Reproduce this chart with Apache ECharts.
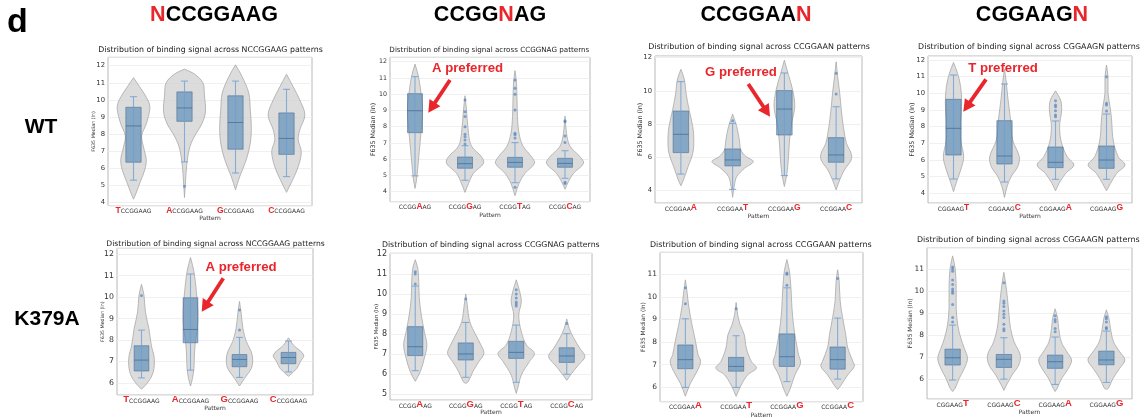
<!DOCTYPE html>
<html><head><meta charset="utf-8">
<script src="https://cdn.jsdelivr.net/npm/echarts@6/dist/echarts.min.js"></script>
<style>html,body{margin:0;padding:0;background:#fff}#c{width:1146px;height:418px}</style>
</head><body><div id="c"></div>
<script>
// ===================== DATA =====================
// categories (the red letter is the varied position)
const catsN1 = ['TCCGGAAG','ACCGGAAG','GCCGGAAG','CCCGGAAG'];
const catsN5 = ['CCGGAAG','CCGGGAG','CCGGTAG','CCGGCAG'];
const catsN7 = ['CCGGAAA','CCGGAAT','CCGGAAG','CCGGAAC'];
const catsN8 = ['CGGAAGT','CGGAAGC','CGGAAGA','CGGAAGG'];
const redN1 = 0, redN5 = 4, redN7 = 6, redN8 = 6;
const headers = [['','N','CCGGAAG'],['CCGG','N','AG'],['CCGGAA','N',''],['CGGAAG','N','']];
const rowLabels = ['WT','K379A'];
const titleN1 = 'Distribution of binding signal across NCCGGAAG patterns';
const titleN5 = 'Distribution of binding signal across CCGGNAG patterns';
const titleN7 = 'Distribution of binding signal across CCGGAAN patterns';
const titleN8 = 'Distribution of binding signal across CGGAAGN patterns';
const yAxisName = 'F635 Median (ln)';
const xAxisName = 'Pattern';
const yStepWT = [1, 1, 2, 1];
const yStepK = [1, 1, 1, 1];

// box stats per category: [lower whisker, Q1, median, Q3, upper whisker]
const wtN1Box = [[5.31,6.36,8.48,9.57,10.19],[6.38,8.75,9.53,10.47,11.1],[5.73,7.12,8.68,10.24,11.1],[5.52,6.82,7.75,9.24,10.62]];
const wtN5Box = [[4.97,7.63,8.98,10.03,11.08],[4.7,5.44,5.72,6.13,6.83],[4.55,5.5,5.8,6.11,7.02],[4.82,5.5,5.74,6.05,6.52]];
const wtN7Box = [[5.0,6.29,7.39,8.79,10.56],[4.08,5.49,5.85,6.51,8.05],[4.91,7.35,8.91,10.02,11.08],[4.71,5.71,6.15,7.19,9.05]];
const wtN8Box = [[4.86,6.3,7.9,9.64,11.1],[4.68,5.76,6.24,8.36,10.56],[4.84,5.54,5.86,6.78,8.34],[4.84,5.5,6.0,6.84,8.76]];
const kN1Box = [[6.23,6.55,7.06,7.73,8.46],[6.59,7.87,8.49,9.97,11.08],[6.25,6.75,7.09,7.32,8.12],[6.51,6.89,7.18,7.42,7.95]];
const kN5Box = [[6.18,6.93,7.37,8.37,10.39],[5.85,6.71,7.01,7.56,8.58],[5.6,6.79,7.09,7.64,8.45],[6.0,6.59,6.91,7.32,8.02]];
const kN7Box = [[5.99,6.82,7.22,7.87,9.03],[5.99,6.71,6.92,7.32,8.28],[6.25,6.92,7.35,8.36,10.4],[6.36,6.8,7.22,7.78,9.06]];
const kN8Box = [[5.97,6.65,6.98,7.37,8.46],[6.01,6.54,6.91,7.13,7.89],[5.77,6.5,6.8,7.1,7.92],[5.86,6.66,6.88,7.28,8.19]];

// outliers per category
const wtN1Out = [[],[4.95],[],[]];
const wtN5Out = [[],[6.93,7.18,7.38,7.53,8.0,8.62,8.92,9.64],[10.87,10.36,9.99,9.03,7.6,7.5,7.3,4.27],[8.37,8.3,7.43,7.02,4.57,4.5]];
const wtN7Out = [[],[8.21],[],[11.06,9.82]];
const wtN8Out = [[],[],[9.56,9.3,9.2,8.96,8.7,8.6],[11.0,9.4,9.3,8.94]];
const kN1Out = [[10.08],[],[9.4,8.46],[]];
const kN5Out = [[11.1,10.99,10.49],[9.74],[10.2,10.0,9.8,9.6,9.5,9.4],[8.53]];
const kN7Out = [[10.4,9.69],[9.47],[11.05,11.0,10.51],[10.81]];
const kN8Out = [[11.1,11.0,10.9,10.5,10.3,10.1,10.0,9.9,9.4,8.8,8.6],[10.38,9.55,9.45,9.3,9.1,8.95,8.8,8.5,8.3,8.2],[8.89,8.72,8.61,8.31,8.16],[8.84,8.75,8.6,8.35,8.3]];

// violin density outline per category: [value, half-width as fraction of category band], top to bottom
const wtN1Vio = [
 [[11.3,0],[10.77,0.12],[10.0,0.28],[9.5,0.32],[8.6,0.25],[7.9,0.16],[7.2,0.2],[6.5,0.25],[5.9,0.22],[5.2,0.13],[4.55,0.05],[4.2,0]],
 [[11.8,0],[11.5,0.2],[11.0,0.36],[10.3,0.39],[9.3,0.41],[8.6,0.34],[8.05,0.23],[7.47,0.13],[6.7,0.065],[5.7,0.03],[4.3,0]],
 [[12.05,0],[11.36,0.13],[10.4,0.26],[9.4,0.29],[8.44,0.31],[7.47,0.29],[6.5,0.21],[5.5,0.08],[4.75,0]],
 [[11.5,0],[10.77,0.13],[10.0,0.26],[9.12,0.36],[8.25,0.26],[7.66,0.23],[6.98,0.29],[6.1,0.23],[5.33,0.12],[4.6,0]]];
const wtN5Vio = [
 [[11.85,0],[11.08,0.07],[10.05,0.12],[9.03,0.15],[8.0,0.13],[6.97,0.1],[5.95,0.07],[4.72,0.03],[4.2,0]],
 [[9.9,0],[9.03,0.03],[7.6,0.07],[6.8,0.13],[6.15,0.33],[5.74,0.37],[5.13,0.17],[4.5,0.07],[3.95,0]],
 [[11.45,0],[10.67,0.03],[8.62,0.05],[7.6,0.08],[6.8,0.16],[6.15,0.33],[5.74,0.39],[5.13,0.2],[4.5,0.08],[3.75,0]],
 [[8.65,0],[7.6,0.03],[6.8,0.1],[6.15,0.3],[5.74,0.37],[5.13,0.17],[4.62,0.07],[4.15,0]]];
const wtN7Vio = [
 [[11.3,0],[10.66,0.07],[9.86,0.1],[8.85,0.16],[7.85,0.23],[7.05,0.25],[6.25,0.23],[5.45,0.14],[4.65,0.05],[4.3,0]],
 [[8.6,0],[7.85,0.08],[7.05,0.13],[6.45,0.16],[6.05,0.26],[5.75,0.4],[5.35,0.23],[4.85,0.08],[4.25,0.03],[3.6,0]],
 [[11.85,0],[11.06,0.07],[10.06,0.16],[9.05,0.2],[8.05,0.14],[7.05,0.1],[6.05,0.08],[5.05,0.05],[4.25,0]],
 [[11.75,0],[10.86,0.03],[9.86,0.07],[8.85,0.1],[7.85,0.14],[6.85,0.2],[6.25,0.29],[5.85,0.29],[5.25,0.16],[4.65,0.07],[4.05,0]]];
const wtN8Vio = [
 [[11.85,0],[11.2,0.08],[10.4,0.14],[9.4,0.16],[8.4,0.14],[7.2,0.14],[6.2,0.2],[5.4,0.14],[4.6,0.05],[4.1,0]],
 [[11.45,0],[10.8,0.03],[9.6,0.07],[8.4,0.12],[7.2,0.16],[6.2,0.29],[5.6,0.26],[5.0,0.13],[4.4,0.05],[3.75,0]],
 [[10.15,0],[9.6,0.1],[9.0,0.12],[8.0,0.08],[7.0,0.12],[6.2,0.23],[5.7,0.36],[5.2,0.2],[4.6,0.07],[4.15,0]],
 [[11.7,0],[11.0,0.03],[10.0,0.03],[9.2,0.07],[8.4,0.1],[7.2,0.13],[6.2,0.23],[5.7,0.36],[5.2,0.2],[4.6,0.08],[4.15,0]]];
const kN1Vio = [
 [[10.6,0],[10.1,0.05],[9.3,0.08],[8.54,0.15],[7.76,0.2],[7.14,0.26],[6.51,0.24],[6.05,0.14],[5.7,0]],
 [[11.85,0],[11.2,0.07],[10.25,0.12],[9.32,0.15],[8.54,0.14],[7.92,0.1],[7.3,0.08],[6.67,0.07],[6.2,0.04],[5.85,0]],
 [[9.8,0],[9.32,0.03],[8.54,0.07],[7.92,0.14],[7.45,0.24],[7.06,0.27],[6.67,0.24],[6.2,0.1],[5.85,0]],
 [[8.1,0],[7.76,0.1],[7.3,0.31],[6.98,0.24],[6.67,0.17],[6.3,0]]];
const kN5Vio = [
 [[11.7,0],[11.27,0.05],[10.6,0.07],[9.78,0.08],[8.95,0.12],[8.12,0.18],[7.46,0.23],[6.8,0.18],[6.13,0.1],[5.65,0]],
 [[10.0,0],[9.45,0.03],[8.62,0.08],[7.95,0.2],[7.46,0.3],[7.04,0.36],[6.63,0.26],[6.13,0.14],[5.63,0.05],[5.55,0]],
 [[10.7,0],[10.1,0.07],[9.6,0.1],[8.95,0.05],[8.12,0.1],[7.46,0.2],[7.04,0.36],[6.63,0.26],[5.96,0.1],[5.3,0.03],[5.05,0]],
 [[8.75,0],[8.28,0.05],[7.79,0.14],[7.29,0.26],[6.88,0.36],[6.46,0.23],[6.05,0.1],[5.7,0]]];
const kN7Vio = [
 [[10.75,0],[10.26,0.03],[9.52,0.07],[8.77,0.13],[8.03,0.2],[7.44,0.25],[7.14,0.3],[6.7,0.23],[6.18,0.1],[5.6,0]],
 [[9.75,0],[9.22,0.03],[8.77,0.08],[8.33,0.16],[7.74,0.2],[7.14,0.3],[6.85,0.4],[6.55,0.23],[6.1,0.1],[5.6,0]],
 [[11.65,0],[11.15,0.05],[10.4,0.08],[9.52,0.1],[8.77,0.13],[8.03,0.18],[7.44,0.23],[7.07,0.27],[6.55,0.16],[5.96,0.07],[5.6,0]],
 [[11.2,0],[10.7,0.03],[9.81,0.05],[9.07,0.1],[8.33,0.16],[7.74,0.2],[7.14,0.3],[6.92,0.33],[6.55,0.2],[6.1,0.07],[5.9,0]]];
const kN8Vio = [
 [[11.6,0],[11.03,0.05],[10.12,0.07],[9.22,0.07],[8.46,0.1],[7.86,0.16],[7.4,0.23],[6.95,0.29],[6.5,0.23],[6.05,0.13],[5.6,0.05],[5.45,0]],
 [[10.85,0],[10.43,0.03],[9.67,0.07],[8.92,0.1],[8.31,0.13],[7.7,0.2],[7.1,0.32],[6.65,0.29],[6.2,0.16],[5.74,0.05],[5.5,0]],
 [[9.2,0],[8.76,0.05],[8.31,0.07],[7.7,0.12],[7.25,0.23],[6.88,0.32],[6.5,0.26],[6.05,0.13],[5.6,0.04],[5.45,0]],
 [[9.15,0],[8.76,0.05],[8.31,0.08],[7.7,0.14],[7.25,0.26],[6.88,0.36],[6.5,0.26],[6.05,0.13],[5.6,0.04],[5.55,0]]];

// annotations: text, panel index
const notes = [['A preferred',1],['G preferred',2],['T preferred',3],['A preferred',4]];

// ===================== LAYOUT =====================
const panels = [
 {cats:catsN1, red:redN1, title:titleN1, box:wtN1Box, vio:wtN1Vio, out:wtN1Out, step:yStepWT[0]},
 {cats:catsN5, red:redN5, title:titleN5, box:wtN5Box, vio:wtN5Vio, out:wtN5Out, step:yStepWT[1]},
 {cats:catsN7, red:redN7, title:titleN7, box:wtN7Box, vio:wtN7Vio, out:wtN7Out, step:yStepWT[2]},
 {cats:catsN8, red:redN8, title:titleN8, box:wtN8Box, vio:wtN8Vio, out:wtN8Out, step:yStepWT[3]},
 {cats:catsN1, red:redN1, title:titleN1, box:kN1Box, vio:kN1Vio, out:kN1Out, step:yStepK[0]},
 {cats:catsN5, red:redN5, title:titleN5, box:kN5Box, vio:kN5Vio, out:kN5Out, step:yStepK[1]},
 {cats:catsN7, red:redN7, title:titleN7, box:kN7Box, vio:kN7Vio, out:kN7Out, step:yStepK[2]},
 {cats:catsN8, red:redN8, title:titleN8, box:kN8Box, vio:kN8Vio, out:kN8Out, step:yStepK[3]}
];
// frame rect, axis range, text positions/sizes
const L = [
 {l:108,r:312,t:57.3,b:205.7, ymin:3.82,ymax:12.49, tx:210.5,ty:50,tw:225, ylx:94,ylf:4.8, tf:6.8, px:218.5},
 {l:390,r:590,t:57.3,b:201.7, ymin:3.38,ymax:12.27, tx:489.3,ty:50,tw:200, ylx:373,ylf:6.3, tf:6.3, px:215.5},
 {l:655,r:862,t:56,b:203,     ymin:3.26,ymax:12.1,  tx:759,ty:47,tw:222,   ylx:640,ylf:6.3, tf:6.8, px:216},
 {l:928,r:1132,t:56,b:203,    ymin:3.42,ymax:12.24, tx:1029,ty:47,tw:222,  ylx:912,ylf:6.4, tf:6.8, px:216},
 {l:117,r:313,t:248.3,b:395,  ymin:5.43,ymax:12.28, tx:215.5,ty:244,tw:219,ylx:103,ylf:4.8, tf:7.8, px:408},
 {l:390,r:592,t:253.3,b:400,  ymin:4.72,ymax:12.02, tx:490.8,ty:245,tw:218,ylx:376.7,ylf:5.4, tf:8, px:412.5},
 {l:660,r:863,t:252.3,b:401.7,ymin:5.36,ymax:11.97, tx:760.8,ty:245,tw:222,ylx:643,ylf:5.9, tf:7.5, px:415},
 {l:927,r:1132,t:247.7,b:399, ymin:5.11,ymax:11.97, tx:1028.3,ty:240,tw:223,ylx:910,ylf:5.9, tf:7.5, px:412}
];
const notePos = [[467.5,68.5],[741,72],[1003,68.5],[241,267.5]];
const arrows = [[[450,80],[428.3,112.7]],[[748.3,84],[770,116.7]],[[986,79.3],[963.3,111.7]],[[223.3,278.3],[201.7,311.7]]];

const RED = '#e8262b';
const FONT = 'DejaVu Sans';
const BOLD = 'Liberation Sans';

const mctx = document.createElement('canvas').getContext('2d');
function fit(text, fam, w) { mctx.font = '100px "' + fam + '"'; return 100 * w / mctx.measureText(text).width; }

function violinRender(vio) {
  return function (params, api) {
    const ci = api.value(0);
    const prof = vio[ci];
    const band = api.size([1, 0])[0];
    const pts = [];
    for (let i = 0; i < prof.length; i++) { const p = api.coord([ci, prof[i][0]]); pts.push([p[0] + prof[i][1] * band, p[1]]); }
    for (let i = prof.length - 1; i >= 0; i--) { const p = api.coord([ci, prof[i][0]]); pts.push([p[0] - prof[i][1] * band, p[1]]); }
    return {type:'polygon', shape:{points:pts, smooth:0.35},
      style:{fill:'rgba(208,208,208,0.75)', stroke:'#a8a8a8', lineWidth:0.8}};
  };
}
function boxRender(params, api) {
  const ci = api.value(0);
  const band = api.size([1, 0])[0];
  const lo = api.coord([ci, api.value(1)]), q1 = api.coord([ci, api.value(2)]),
        md = api.coord([ci, api.value(3)]), q3 = api.coord([ci, api.value(4)]), hi = api.coord([ci, api.value(5)]);
  const x = lo[0], hw = band * 0.15, cw = band * 0.07;
  const wstyle = {stroke:'rgba(110,160,210,0.8)', lineWidth:1.1};
  return {type:'group', children:[
    {type:'rect', shape:{x:x - hw, y:q3[1], width:2 * hw, height:q1[1] - q3[1]},
     style:{fill:'rgba(70,130,180,0.58)', stroke:'rgba(70,105,145,0.7)', lineWidth:0.8}},
    {type:'line', shape:{x1:x, y1:hi[1], x2:x, y2:lo[1]}, style:wstyle},
    {type:'line', shape:{x1:x - cw, y1:hi[1], x2:x + cw, y2:hi[1]}, style:wstyle},
    {type:'line', shape:{x1:x - cw, y1:lo[1], x2:x + cw, y2:lo[1]}, style:wstyle},
    {type:'line', shape:{x1:x - hw, y1:md[1], x2:x + hw, y2:md[1]}, style:{stroke:'rgba(60,95,140,0.7)', lineWidth:0.9}}
  ]};
}

const grids = [], xAxes = [], yAxes = [], series = [], graphics = [];
panels.forEach((P, i) => {
  const g = L[i];
  grids.push({left:g.l, top:g.t, width:g.r - g.l, height:g.b - g.t, show:true, borderColor:'#b8b8b8', borderWidth:1, backgroundColor:'#fff', containLabel:false});
  const redSize = i >= 4 ? 9.5 : 8.5;
  xAxes.push({type:'category', gridIndex:i, data:P.cats, boundaryGap:true,
    axisLine:{show:false}, axisTick:{show:false}, splitLine:{show:false},
    axisLabel:{margin:1, interval:0,
      formatter:(v) => {
        const p = P.red; let s = '';
        if (p > 0) s += '{k|' + v.slice(0, p) + '}';
        s += '{r|' + v[p] + '}';
        if (p < v.length - 1) s += '{k|' + v.slice(p + 1) + '}';
        return s;
      },
      rich:{k:{fontFamily:FONT, fontSize:6, color:'#333', verticalAlign:'bottom', lineHeight:8},
            r:{fontFamily:BOLD, fontWeight:'bold', fontSize:redSize, color:RED, verticalAlign:'bottom', lineHeight:8}}}});
  yAxes.push({type:'value', gridIndex:i, min:g.ymin, max:g.ymax, minInterval:P.step, maxInterval:P.step,
    axisLine:{show:false}, axisTick:{show:false},
    splitLine:{show:true, lineStyle:{color:'#ececec', width:0.8}},
    axisLabel:{showMinLabel:false, showMaxLabel:false, margin:3, fontFamily:FONT, fontSize:g.tf, color:'#333'}});
  series.push({type:'custom', xAxisIndex:i, yAxisIndex:i, silent:true, z:1,
    renderItem:violinRender(P.vio), data:P.cats.map((c, k) => [k, P.box[k][2]])});
  series.push({type:'custom', xAxisIndex:i, yAxisIndex:i, silent:true, z:2,
    renderItem:boxRender, encode:{x:0, y:[1,2,3,4,5]}, data:P.box.map((b, k) => [k].concat(b))});
  const pts = [];
  P.out.forEach((arr, k) => arr.forEach(v => pts.push([k, v])));
  series.push({type:'scatter', xAxisIndex:i, yAxisIndex:i, silent:true, z:3, symbolSize:3,
    itemStyle:{color:'rgba(75,130,195,0.85)'}, data:pts});
  // panel title
  graphics.push({type:'text', x:g.tx, y:g.ty, style:{text:P.title, fontFamily:FONT, fontSize:fit(P.title, FONT, g.tw), fill:'#222', align:'center', verticalAlign:'middle'}});
  // y axis name
  graphics.push({type:'text', x:g.ylx, y:(g.t + g.b) / 2, rotation:Math.PI / 2,
    style:{text:yAxisName, fontFamily:FONT, fontSize:g.ylf, fill:'#333', align:'center', verticalAlign:'middle'}});
  // x axis name
  graphics.push({type:'text', x:(g.l + g.r) / 2, y:g.px, style:{text:xAxisName, fontFamily:FONT, fontSize:6, fill:'#333', align:'center', verticalAlign:'middle'}});
});

// panel letter, column headers, row labels
graphics.push({type:'text', x:7, y:23, style:{text:'d', fontFamily:BOLD, fontWeight:'bold', fontSize:34, fill:'#000', verticalAlign:'middle'}});
const headX = [214, 490, 756, 1032];
headers.forEach((h, j) => {
  let s = '';
  if (h[0]) s += '{k|' + h[0] + '}';
  s += '{r|' + h[1] + '}';
  if (h[2]) s += '{k|' + h[2] + '}';
  graphics.push({type:'text', x:headX[j], y:15, style:{text:s, align:'center', verticalAlign:'middle',
    rich:{k:{fontFamily:BOLD, fontWeight:'bold', fontSize:21.5, fill:'#000'}, r:{fontFamily:BOLD, fontWeight:'bold', fontSize:21.5, fill:RED}}}});
});
graphics.push({type:'text', x:41, y:127, style:{text:rowLabels[0], fontFamily:BOLD, fontWeight:'bold', fontSize:21, fill:'#000', align:'center', verticalAlign:'middle'}});
graphics.push({type:'text', x:47, y:319, style:{text:rowLabels[1], fontFamily:BOLD, fontWeight:'bold', fontSize:21, fill:'#000', align:'center', verticalAlign:'middle'}});

// annotations
notes.forEach((n, j) => {
  graphics.push({type:'text', x:notePos[j][0], y:notePos[j][1], z:10,
    style:{text:n[0], fontFamily:BOLD, fontWeight:'bold', fontSize:13.2, fill:RED, align:'center', verticalAlign:'middle'}});
  const s = arrows[j][0], t = arrows[j][1];
  const dx = t[0] - s[0], dy = t[1] - s[1], len = Math.hypot(dx, dy);
  const ux = dx / len, uy = dy / len, nx = -uy, ny = ux;
  const hl = 12, hw = 6.5;
  const bx = t[0] - ux * hl, by = t[1] - uy * hl;
  graphics.push({type:'line', z:10, shape:{x1:s[0], y1:s[1], x2:bx + ux, y2:by + uy}, style:{stroke:RED, lineWidth:3.8}});
  graphics.push({type:'polygon', z:10, shape:{points:[[t[0], t[1]], [bx + nx * hw, by + ny * hw], [bx - nx * hw, by - ny * hw]]}, style:{fill:RED}});
});

const chart = echarts.init(document.getElementById('c'), null, {renderer:'canvas'});
chart.setOption({animation:false, backgroundColor:'#fff', grid:grids, xAxis:xAxes, yAxis:yAxes, series:series, graphic:{elements:graphics}});
</script>
</body></html>
